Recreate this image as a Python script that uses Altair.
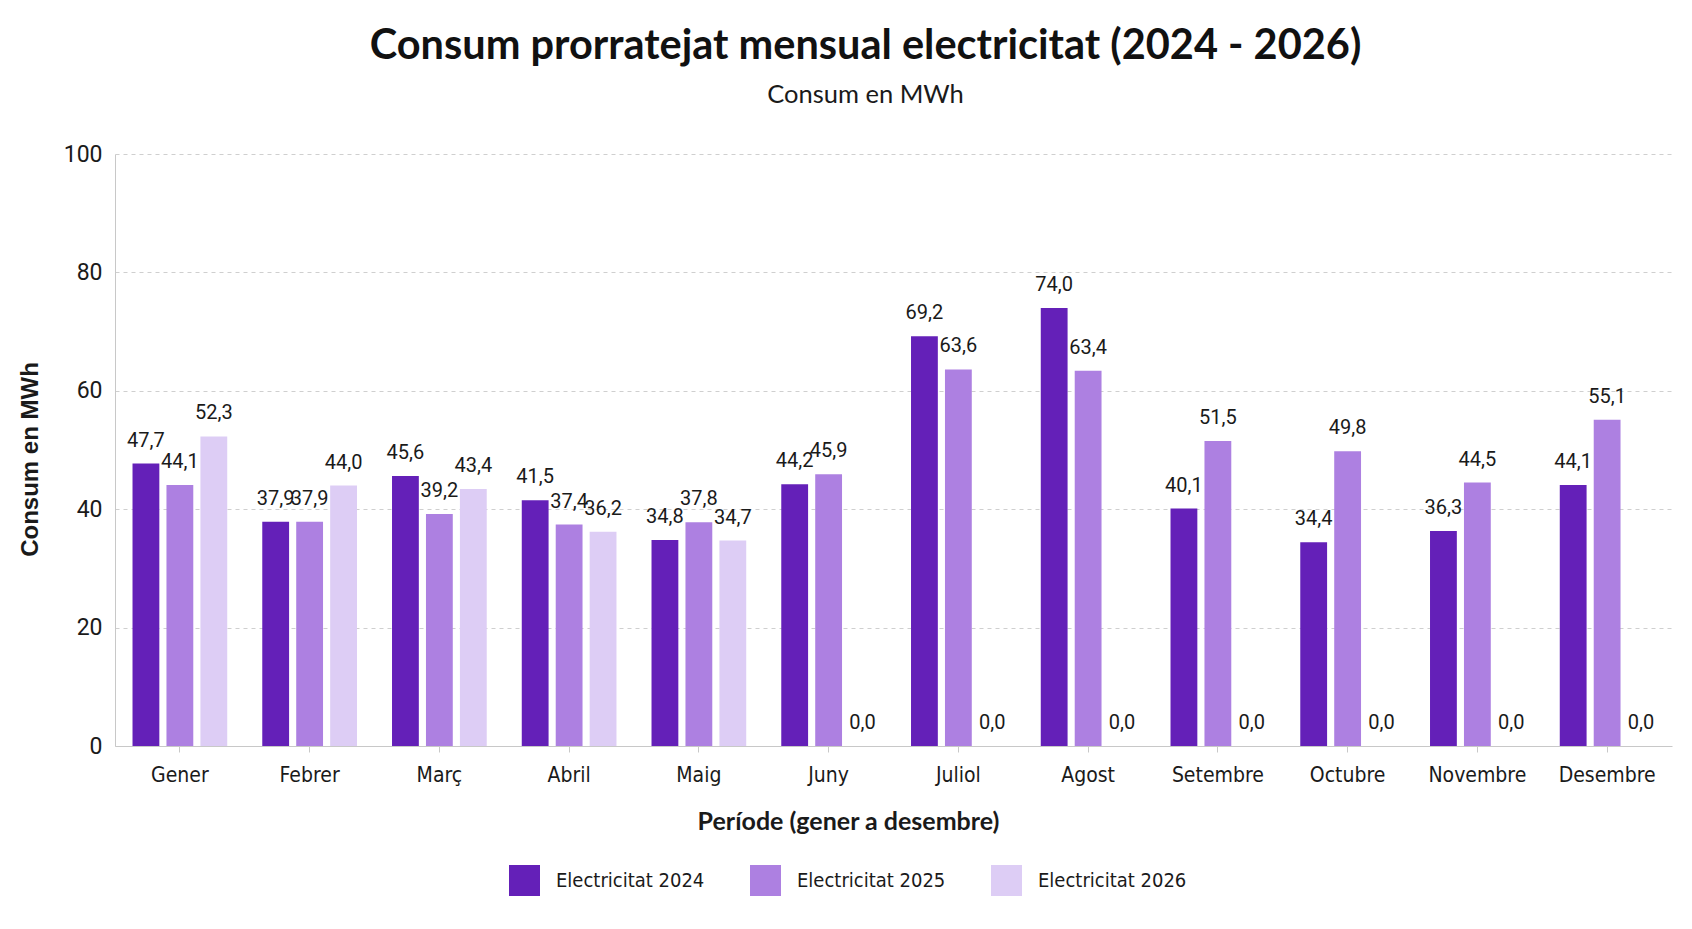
import altair as alt
import pandas as pd

months = ["Gener", "Febrer", "Març", "Abril", "Maig", "Juny", "Juliol",
          "Agost", "Setembre", "Octubre", "Novembre", "Desembre"]
series = ["Electricitat 2024", "Electricitat 2025", "Electricitat 2026"]
e2024 = [47.7, 37.9, 45.6, 41.5, 34.8, 44.2, 69.2, 74.0, 40.1, 34.4, 36.3, 44.1]
e2025 = [44.1, 37.9, 39.2, 37.4, 37.8, 45.9, 63.6, 63.4, 51.5, 49.8, 44.5, 55.1]
e2026 = [52.3, 44.0, 43.4, 36.2, 34.7, 0.0, 0.0, 0.0, 0.0, 0.0, 0.0, 0.0]
colors = ["#6420b8", "#ad80e1", "#ddcdf5"]
y_ticks = [0, 20, 40, 60, 80, 100]

rows = []
for s, vals in zip(series, [e2024, e2025, e2026]):
    for m, v in zip(months, vals):
        rows.append({"mes": m, "serie": s, "valor": v})
df = pd.DataFrame(rows)

COND = "DejaVu Sans Condensed, sans-serif"
NUM = "Roboto, sans-serif"
HUM = "Lato, sans-serif"
TXT = "#1a1a1a"

x = alt.X("mes:N", sort=months,
          scale=alt.Scale(paddingInner=0.27, paddingOuter=0.135),
          axis=alt.Axis(title="Període (gener a desembre)", labelAngle=0,
                        labelFont=COND, labelFontSize=21, labelColor=TXT,
                        labelPadding=12, tickSize=6, tickColor="#c8c8c8",
                        domainColor="#c8c8c8", grid=False,
                        titleFont=HUM, titleFontSize=25, titleFontWeight="bold",
                        titleColor=TXT, titleX=733, titleY=75,
                        titleBaseline="middle"))
xo = alt.XOffset("serie:N", sort=series,
                 scale=alt.Scale(paddingInner=0.21, paddingOuter=0))
y = alt.Y("valor:Q", scale=alt.Scale(domain=[0, 100]),
          axis=alt.Axis(values=y_ticks, title="Consum en MWh",
                        labelFont=NUM, labelFontSize=23, labelColor=TXT,
                        labelPadding=13, ticks=False, tickSize=0,
                        domainColor="#c8c8c8", gridColor="#cfcfcf",
                        gridDash=[4, 4], titleFont="Liberation Sans",
                        titleFontSize=24, titleFontWeight="bold",
                        titleColor=TXT, titleX=-85, titleY=305,
                        titleAngle=-90, titleBaseline="middle"))

base = alt.Chart(df).encode(x=x, xOffset=xo)

bars = base.mark_bar().encode(
    y=y,
    color=alt.Color("serie:N", sort=series,
                    scale=alt.Scale(domain=series, range=colors),
                    legend=alt.Legend(title=None, orient="none", legendX=394,
                                      legendY=711, direction="horizontal",
                                      symbolType="square", symbolSize=961,
                                      symbolStrokeWidth=0, labelFont=COND,
                                      labelFontSize=20, labelColor=TXT,
                                      labelOffset=16, columnPadding=45,
                                      labelLimit=0, padding=0)),
)

labels = base.transform_calculate(
    etiqueta="replace(format(datum.valor, '.1f'), '.', ',')"
).mark_text(baseline="bottom", dy=-13, font=NUM, fontSize=20,
            color=TXT).encode(y=y, text="etiqueta:N")

chart = alt.layer(bars, labels).properties(
    width=1557, height=592,
    title=alt.TitleParams(
        text="Consum prorratejat mensual electricitat (2024 - 2026)",
        subtitle="Consum en MWh", font=HUM, fontSize=41.5, fontWeight="bold",
        color="#111111", subtitleFont=HUM, subtitleFontSize=25.5,
        subtitleColor=TXT, anchor="middle", offset=35, dx=-28,
        subtitlePadding=15),
    autosize=alt.AutoSizeParams(type="none"),
    padding={"left": 107, "top": 146, "right": 12, "bottom": 175},
).configure_view(stroke=None)

chart.save("out.html", embed_options={"renderer": "svg", "actions": False})
